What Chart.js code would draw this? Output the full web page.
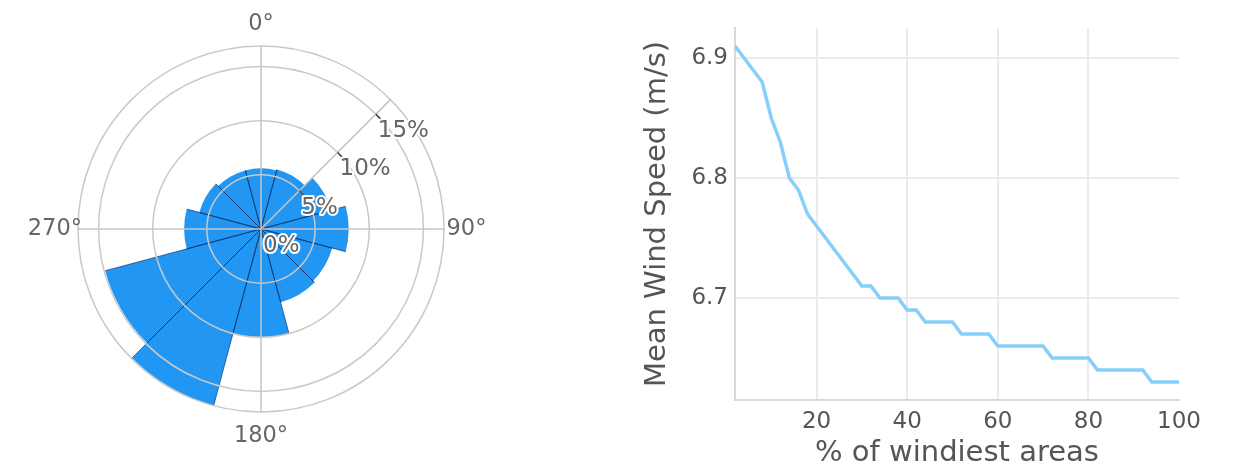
<!DOCTYPE html>
<html><head><meta charset="utf-8">
<script src="https://cdn.jsdelivr.net/npm/chart.js@4.4.1/dist/chart.umd.min.js"></script>
<style>
html,body{margin:0;padding:0;background:#fff;width:1233px;height:471px;overflow:hidden}
#rose{position:absolute;left:0;top:0}
#curve{position:absolute;left:600px;top:0}
</style></head><body>
<canvas id="rose" width="522" height="471"></canvas>
<canvas id="curve" width="633" height="471"></canvas>
<script>
// ---- Wind rose data (frequency % per 30° sector) ----
const directions = ['0°','30°','60°','90°','120°','150°','180°','210°','240°','270°','300°','330°'];
const frequency  = [5.6, 5.7, 6.7, 8.1, 6.8, 7.0, 10.0, 16.9, 14.9, 7.1, 5.9, 5.6];
const radialTicks = [0, 5, 10, 15];
const angularTickLabels = ['0°', '90°', '180°', '270°'];
const angularTickAngles = [0, 90, 180, 270];

// ---- Mean wind speed vs % of windiest areas ----
const windiestPct = [2,4,6,8,10,12,14,16,18,20,22,24,26,28,30,32,34,36,38,40,42,44,46,48,50,
                     52,54,56,58,60,62,64,66,68,70,72,74,76,78,80,82,84,86,88,90,92,94,96,98,100];
const meanSpeed = [6.91,6.90,6.89,6.88,6.85,6.83,6.80,6.79,6.77,6.76,6.75,6.74,6.73,6.72,6.71,6.71,6.70,6.70,6.70,6.69,6.69,6.68,6.68,6.68,6.68,
                   6.67,6.67,6.67,6.67,6.66,6.66,6.66,6.66,6.66,6.66,6.65,6.65,6.65,6.65,6.65,6.64,6.64,6.64,6.64,6.64,6.64,6.63,6.63,6.63,6.63];
const xTicks = [20, 40, 60, 80, 100];
const yTicks = [6.7, 6.8, 6.9];

Chart.defaults.font.family = "'DejaVu Sans', Verdana, sans-serif";
Chart.defaults.color = '#555';

const FONT = "'DejaVu Sans', Verdana, sans-serif";

const roseDecor = {
  id: 'roseDecor',
  afterDatasetsDraw(chart) {
    const meta = chart.getDatasetMeta(0);
    const ctx = chart.ctx;
    ctx.save();
    ctx.strokeStyle = 'rgba(0,35,90,0.6)';
    ctx.lineWidth = 1;
    meta.data.forEach(arc => {
      const p = arc.getProps(['x','y','startAngle','endAngle','outerRadius'], true);
      [p.startAngle, p.endAngle].forEach(a => {
        ctx.beginPath();
        ctx.moveTo(p.x, p.y);
        ctx.lineTo(p.x + Math.cos(a) * p.outerRadius, p.y + Math.sin(a) * p.outerRadius);
        ctx.stroke();
      });
    });
    ctx.restore();
  },
  afterDraw(chart) {
    const s = chart.scales.r, ctx = chart.ctx;
    const cx = s.xCenter, cy = s.yCenter, R = s.drawingArea;
    const pt = (deg, d) => { const a = deg * Math.PI / 180; return {x: cx + d * Math.sin(a), y: cy - d * Math.cos(a)}; };
    ctx.save();
    ctx.strokeStyle = '#c4c4c4';
    ctx.lineWidth = 1.5;
    angularTickAngles.forEach(a => {
      const p = pt(a, R);
      ctx.beginPath(); ctx.moveTo(cx, cy); ctx.lineTo(p.x, p.y); ctx.stroke();
    });
    const axisDeg = 45;
    const pe = pt(axisDeg, R);
    ctx.beginPath(); ctx.moveTo(cx, cy); ctx.lineTo(pe.x, pe.y); ctx.stroke();
    const perp = {x: Math.cos(axisDeg * Math.PI / 180), y: Math.sin(axisDeg * Math.PI / 180)};
    ctx.strokeStyle = '#444';
    ctx.lineWidth = 1.5;
    radialTicks.forEach(v => {
      if (v <= 0) return;
      const p = pt(axisDeg, s.getDistanceFromCenterForValue(v));
      ctx.beginPath(); ctx.moveTo(p.x, p.y); ctx.lineTo(p.x + 7 * perp.x, p.y + 7 * perp.y); ctx.stroke();
    });
    ctx.font = "23px " + FONT;
    ctx.textBaseline = 'middle';
    ctx.textAlign = 'left';
    ctx.lineJoin = 'round';
    radialTicks.forEach(v => {
      const p = pt(axisDeg, s.getDistanceFromCenterForValue(v));
      const tx = p.x + 2, ty = p.y + 17;
      ctx.strokeStyle = '#fff'; ctx.lineWidth = 4; ctx.strokeText(v + '%', tx, ty);
      ctx.fillStyle = '#666'; ctx.fillText(v + '%', tx, ty);
    });
    ctx.font = "22.5px " + FONT;
    ctx.fillStyle = '#666';
    angularTickAngles.forEach((a, i) => {
      const t = angularTickLabels[i];
      if (a === 0) { ctx.textAlign = 'center'; ctx.fillText(t, cx, cy - R - 22); }
      else if (a === 180) { ctx.textAlign = 'center'; ctx.fillText(t, cx, cy + R + 24); }
      else if (a === 90) { ctx.textAlign = 'left'; ctx.fillText(t, cx + R + 2.5, cy); }
      else { ctx.textAlign = 'right'; ctx.fillText(t, cx - R + 4, cy); }
    });
    ctx.restore();
  }
};

new Chart(document.getElementById('rose'), {
  type: 'polarArea',
  data: {
    labels: directions,
    datasets: [{ data: frequency, backgroundColor: '#2196f3', borderWidth: 0 }]
  },
  options: {
    responsive: false,
    animation: false,
    devicePixelRatio: 1,
    layout: { padding: { top: 46, bottom: 59, left: 78, right: 78 } },
    plugins: { legend: { display: false }, tooltip: { enabled: false } },
    scales: {
      r: {
        min: 0,
        max: Math.max(...frequency),
        startAngle: -15,
        afterBuildTicks: sc => { sc.ticks = radialTicks.concat([Math.max(...frequency)]).map(v => ({ value: v })); },
        ticks: { display: false },
        grid: { color: '#c9c9c9', lineWidth: 1.5, z: 1, circular: true },
        angleLines: { display: false },
        pointLabels: { display: false }
      }
    }
  },
  plugins: [roseDecor]
});

new Chart(document.getElementById('curve'), {
  type: 'line',
  data: {
    datasets: [{
      data: windiestPct.map((x, i) => ({ x: x, y: meanSpeed[i] })),
      borderColor: '#87cefa',
      borderWidth: 3.5,
      pointRadius: 0,
      tension: 0,
      fill: false
    }]
  },
  options: {
    responsive: false,
    animation: false,
    devicePixelRatio: 1,
    layout: { padding: { top: 28, right: 54, left: 0, bottom: 0 } },
    plugins: { legend: { display: false }, tooltip: { enabled: false } },
    scales: {
      x: {
        type: 'linear', min: 2, max: 100,
        afterBuildTicks: sc => { sc.ticks = xTicks.map(v => ({ value: v })); },
        afterFit: sc => { sc.height = 71; },
        grid: { color: c => (c.tick && c.tick.value === 100) ? 'rgba(0,0,0,0)' : '#ebebeb', lineWidth: 2, drawTicks: false },
        border: { color: '#d9d9d9', width: 2 },
        ticks: { font: { size: 23 }, color: '#555', padding: 8, maxRotation: 0 },
        title: { display: true, text: '% of windiest areas', font: { size: 29 }, color: '#555', padding: { top: 0, bottom: 0 } }
      },
      y: {
        min: 6.615, max: 6.925,
        afterBuildTicks: sc => { sc.ticks = yTicks.map(v => ({ value: v })); },
        afterFit: sc => { sc.width = 135; },
        grid: { color: '#ebebeb', lineWidth: 2, drawTicks: false },
        border: { color: '#d9d9d9', width: 2 },
        ticks: { font: { size: 23 }, color: '#555', padding: 7, callback: v => Number(v).toFixed(1) },
        title: { display: true, text: 'Mean Wind Speed (m/s)', font: { size: 29 }, color: '#555', padding: { top: 40, bottom: 0 } }
      }
    }
  }
});
</script>
</body></html>
